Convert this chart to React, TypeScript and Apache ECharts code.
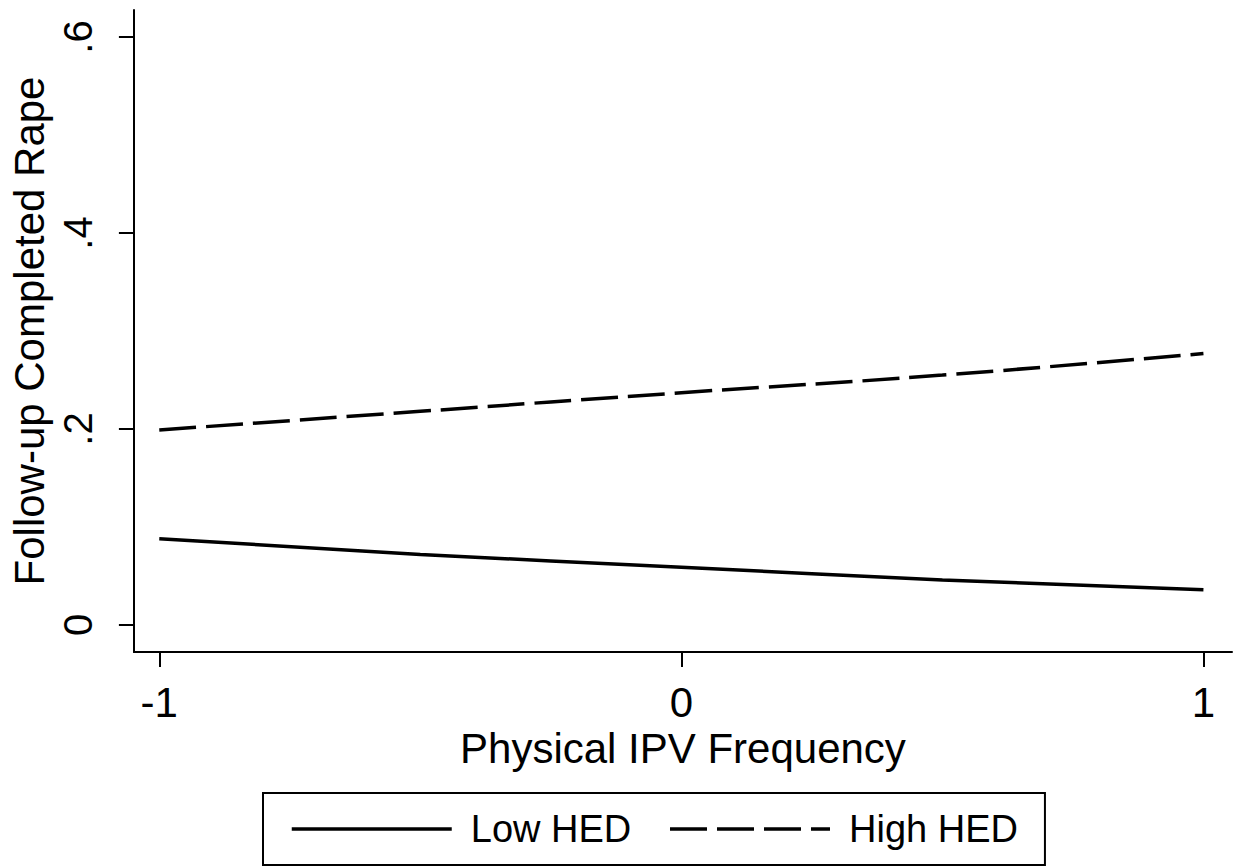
import React, { useEffect, useRef } from "react";
import * as echarts from "echarts";

const xValues = [-1, -0.5, 0, 0.5, 1];
const lowHED = [0.088, 0.072, 0.059, 0.046, 0.036];
const highHED = [0.199, 0.218, 0.237, 0.255, 0.277];
const xTicks = [-1, 0, 1];
const yTicks = [0, 0.2, 0.4, 0.6];
const yTickLabels = ["0", ".2", ".4", ".6"];
const seriesNames = ["Low HED", "High HED"];
const xTitle = "Physical IPV Frequency";
const yTitle = "Follow-up Completed Rape";

const FONT = "'Liberation Sans', Arial, Helvetica, sans-serif";

export default function App() {
  const ref = useRef<HTMLDivElement>(null);
  useEffect(() => {
    if (!ref.current) return;
    const chart = echarts.init(ref.current, undefined, { renderer: "svg" });
    const toPairs = (ys: number[]) => xValues.map((x, i) => [x, ys[i]]);
    const axisLine = { show: true, onZero: false, lineStyle: { color: "#000", width: 2 } };
    const axisTick = { show: true, length: 15, lineStyle: { color: "#000", width: 2 } };
    chart.setOption({
      animation: false,
      backgroundColor: "#fff",
      textStyle: { fontFamily: FONT },
      grid: { left: 129, right: 3, top: 10, bottom: 215, containLabel: false },
      xAxis: {
        type: "value",
        min: -1.0486,
        max: 1.0547,
        axisLine,
        axisTick: { ...axisTick, customValues: xTicks },
        axisLabel: {
          customValues: xTicks,
          formatter: (v: number) => String(v),
          fontSize: 42,
          fontFamily: FONT,
          color: "#000",
          margin: 29,
        },
        splitLine: { show: false },
        name: xTitle,
        nameLocation: "middle",
        nameGap: 69,
        nameTextStyle: { fontSize: 42, fontFamily: FONT, color: "#000" },
      },
      yAxis: {
        type: "value",
        min: -0.0276,
        max: 0.6276,
        axisLine,
        axisTick: { ...axisTick, customValues: yTicks },
        axisLabel: {
          customValues: yTicks,
          formatter: (v: number) => {
            const i = yTicks.findIndex((t) => Math.abs(t - v) < 1e-6);
            return i >= 0 ? yTickLabels[i] : "";
          },
          rotate: 90,
          fontSize: 40,
          fontFamily: FONT,
          color: "#000",
          margin: 36,
        },
        splitLine: { show: false },
        name: yTitle,
        nameLocation: "middle",
        nameRotate: 90,
        nameGap: 79,
        nameTextStyle: { fontSize: 42, fontFamily: FONT, color: "#000" },
      },
      legend: {
        show: true,
        data: seriesNames,
        left: 263,
        top: 793,
        orient: "horizontal",
        borderColor: "#000",
        borderWidth: 2,
        borderRadius: 0,
        padding: [13, 27, 13, 27],
        itemWidth: 160,
        itemHeight: 14,
        itemGap: 37,
        itemStyle: { color: "rgba(0,0,0,0)", borderWidth: 0, opacity: 0 },
        lineStyle: { width: 3.5, color: "#000" },
        textStyle: {
          fontSize: 38,
          fontFamily: FONT,
          color: "#000",
          padding: [0, 0, 0, 14],
          lineHeight: 46,
        },
      },
      series: [
        {
          name: seriesNames[0],
          type: "line",
          data: toPairs(lowHED),
          showSymbol: false,
          symbol: "none",
          smooth: true,
          lineStyle: { color: "#000", width: 3.5, type: "solid" },
          itemStyle: { color: "#000" },
        },
        {
          name: seriesNames[1],
          type: "line",
          data: toPairs(highHED),
          showSymbol: false,
          symbol: "none",
          smooth: true,
          lineStyle: { color: "#000", width: 3.5, type: [37, 10] },
          itemStyle: { color: "#000" },
        },
      ],
    });
    return () => chart.dispose();
  }, []);
  return (
    <div
      ref={ref}
      style={{ position: "fixed", left: 0, top: 0, width: 1235, height: 867, background: "#fff" }}
    />
  );
}
